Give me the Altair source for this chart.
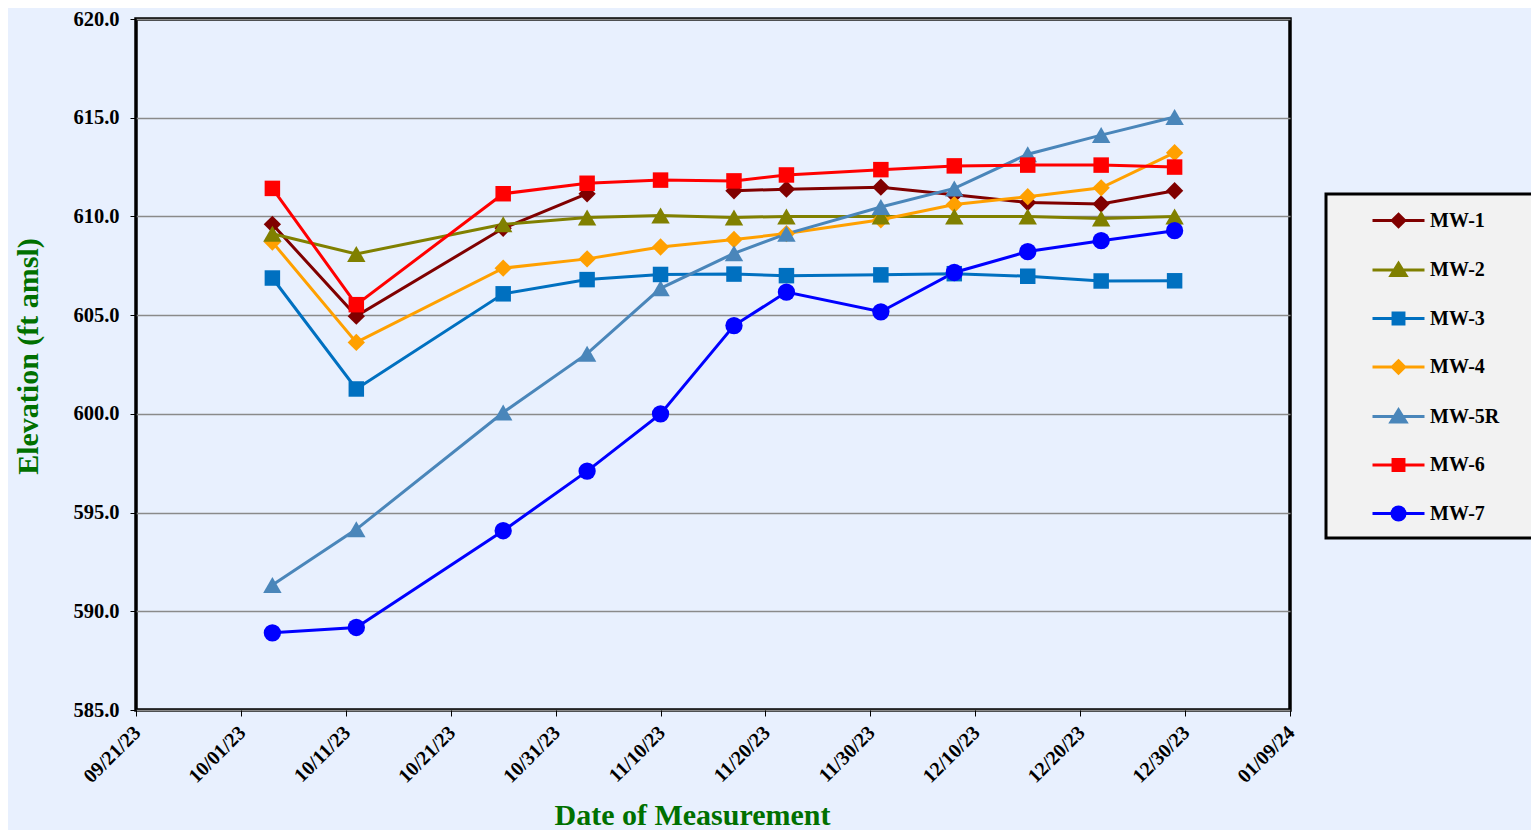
import altair as alt
import pandas as pd

# ---- data ----
dates = ["2023-10-04", "2023-10-12", "2023-10-26", "2023-11-03", "2023-11-10", "2023-11-17",
         "2023-11-22", "2023-12-01", "2023-12-08", "2023-12-15", "2023-12-22", "2023-12-29"]
series_names = ["MW-1", "MW-2", "MW-3", "MW-4", "MW-5R", "MW-6", "MW-7"]
mw1 = [609.60, 604.95, 609.40, 611.15, None, 611.30, 611.38, 611.48, 611.10, 610.70, 610.63, 611.30]
mw2 = [609.12, 608.10, 609.60, 609.95, 610.05, 609.95, 610.00, 610.00, 610.00, 610.00, 609.90, 610.00]
mw3 = [606.88, 601.26, 606.08, 606.80, 607.06, 607.08, 607.00, 607.04, 607.10, 606.97, 606.73, 606.74]
mw4 = [608.70, 603.62, 607.38, 607.85, 608.45, 608.83, 609.13, 609.83, 610.60, 611.00, 611.45, 613.23]
mw5r = [591.33, 594.15, 600.07, 603.05, 606.36, 608.13, 609.12, 610.48, 611.42, 613.15, 614.12, 615.04]
mw6 = [611.42, 605.53, 611.15, 611.68, 611.84, 611.80, 612.10, 612.37, 612.56, 612.60, 612.60, 612.50]
mw7 = [588.91, 589.18, 594.08, 597.10, 600.00, 604.47, 606.17, 605.17, 607.16, 608.22, 608.77, 609.28]
values = [mw1, mw2, mw3, mw4, mw5r, mw6, mw7]

tick_dates = [(2023, 9, 21), (2023, 10, 1), (2023, 10, 11), (2023, 10, 21), (2023, 10, 31),
              (2023, 11, 10), (2023, 11, 20), (2023, 11, 30), (2023, 12, 10), (2023, 12, 20),
              (2023, 12, 30), (2024, 1, 9)]

# ---- styles ----
colors = ["#800000", "#808000", "#0070C0", "#FFA000", "#4A86BA", "#FF0000", "#0000FF"]
BG = "#E8F0FE"
GREEN = "#007000"
FONT = "Liberation Serif"

rows = []
for name, vals in zip(series_names, values):
    seg = 0
    for d, v in zip(dates, vals):
        if v is None:
            seg += 1
            continue
        rows.append({"date": d + "T00:00:00", "series": name, "elev": v, "seg": f"{name}-{seg}"})
df = pd.DataFrame(rows)

dt = lambda t: alt.DateTime(year=t[0], month=t[1], date=t[2])

x_enc = alt.X("date:T", title="Date of Measurement",
              scale=alt.Scale(domain=[dt(tick_dates[0]), dt(tick_dates[-1])]),
              axis=alt.Axis(values=[dt(t) for t in tick_dates], format="%m/%d/%y",
                            labelAngle=-45, grid=False, domain=False,
                            tickSize=6, tickColor="black", labelPadding=6, labelOffset=-6,
                            labelFontSize=20, titleFontSize=30,
                            titleX=556, titleY=114, titleBaseline="alphabetic"))
y_enc = alt.Y("elev:Q", title="Elevation (ft amsl)",
              scale=alt.Scale(domain=[585, 620], nice=False, zero=False),
              axis=alt.Axis(values=[585, 590, 595, 600, 605, 610, 615, 620], format=".1f",
                            grid=True, gridColor="#8A8A8A", gridWidth=1.5, domain=False,
                            tickSize=6, tickColor="black", labelPadding=11,
                            labelFontSize=20.5, titleFontSize=30,
                            titleX=-99, titleY=337, titleBaseline="alphabetic"))

# colour scale for drawn marks (domain taken from the data, sorted)
cscale = alt.Scale(range=colors)
base = alt.Chart(df)

lines = base.mark_line(strokeWidth=3).encode(
    x=x_enc, y=y_enc,
    color=alt.Color("series:N", scale=cscale, legend=None),
    detail="seg:N",
)

groups = [
    ("diamond", 300, ["MW-1", "MW-4"]),
    ("triangle-up", 340, ["MW-2", "MW-5R"]),
    ("square", 240, ["MW-3", "MW-6"]),
    ("circle", 300, ["MW-7"]),
]
point_layers = []
for shp, sz, members in groups:
    point_layers.append(
        base.transform_filter(alt.FieldOneOfPredicate(field="series", oneOf=members))
        .mark_point(filled=True, shape=shp, size=sz, opacity=1)
        .encode(x=x_enc, y=y_enc, color=alt.Color("series:N", scale=cscale, legend=None))
    )

# legend: line + marker symbols
ln = "M-2,0L2,0"
dia = ln + "M0,-0.48L0.48,0L0,0.48L-0.48,0Z"
tri = ln + "M0,-0.52L0.58,0.42L-0.58,0.42Z"
sq = ln + "M-0.42,-0.42L0.42,-0.42L0.42,0.42L-0.42,0.42Z"
cir = ln + "M-0.5,0A0.5,0.5,0,1,0,0.5,0A0.5,0.5,0,1,0,-0.5,0Z"
legend_paths = [dia, tri, sq, dia, tri, sq, cir]

leg = alt.Legend(orient="none", legendX=1190, legendY=175,
                 fillColor="#F2F2F2", strokeColor="black",
                 padding=12, rowPadding=22.5, symbolOffset=46, labelOffset=17,
                 symbolSize=676, symbolStrokeWidth=3, symbolOpacity=1,
                 labelFont=FONT, labelFontSize=20, labelFontWeight="bold",
                 labelColor="black",
                 titleOrient="right", titlePadding=24, titleFontSize=10)

legend_layer = base.mark_point(filled=True, opacity=0, size=676, strokeWidth=3).encode(
    x=x_enc, y=y_enc,
    fill=alt.Fill("series:N", title=" ", scale=alt.Scale(domain=series_names, range=colors), legend=leg),
    stroke=alt.Stroke("series:N", title=" ", scale=alt.Scale(domain=series_names, range=colors), legend=leg),
    shape=alt.Shape("series:N", title=" ", scale=alt.Scale(domain=series_names, range=legend_paths), legend=leg),
)

chart = alt.layer(lines, *point_layers, legend_layer).properties(
    width=1154, height=691,
    background=BG,
    padding={"left": 128, "top": 11, "right": 241, "bottom": 120},
    autosize=alt.AutoSizeParams(type="none"),
).configure_view(
    fill=BG, stroke="black", strokeWidth=3.5
).configure_axis(
    labelFont=FONT, labelFontWeight="bold", labelColor="black",
    titleFont=FONT, titleFontWeight="bold", titleColor=GREEN,
).configure_legend(strokeWidth=3)

chart.save("out.html", embed_options={"renderer": "svg", "actions": False})
